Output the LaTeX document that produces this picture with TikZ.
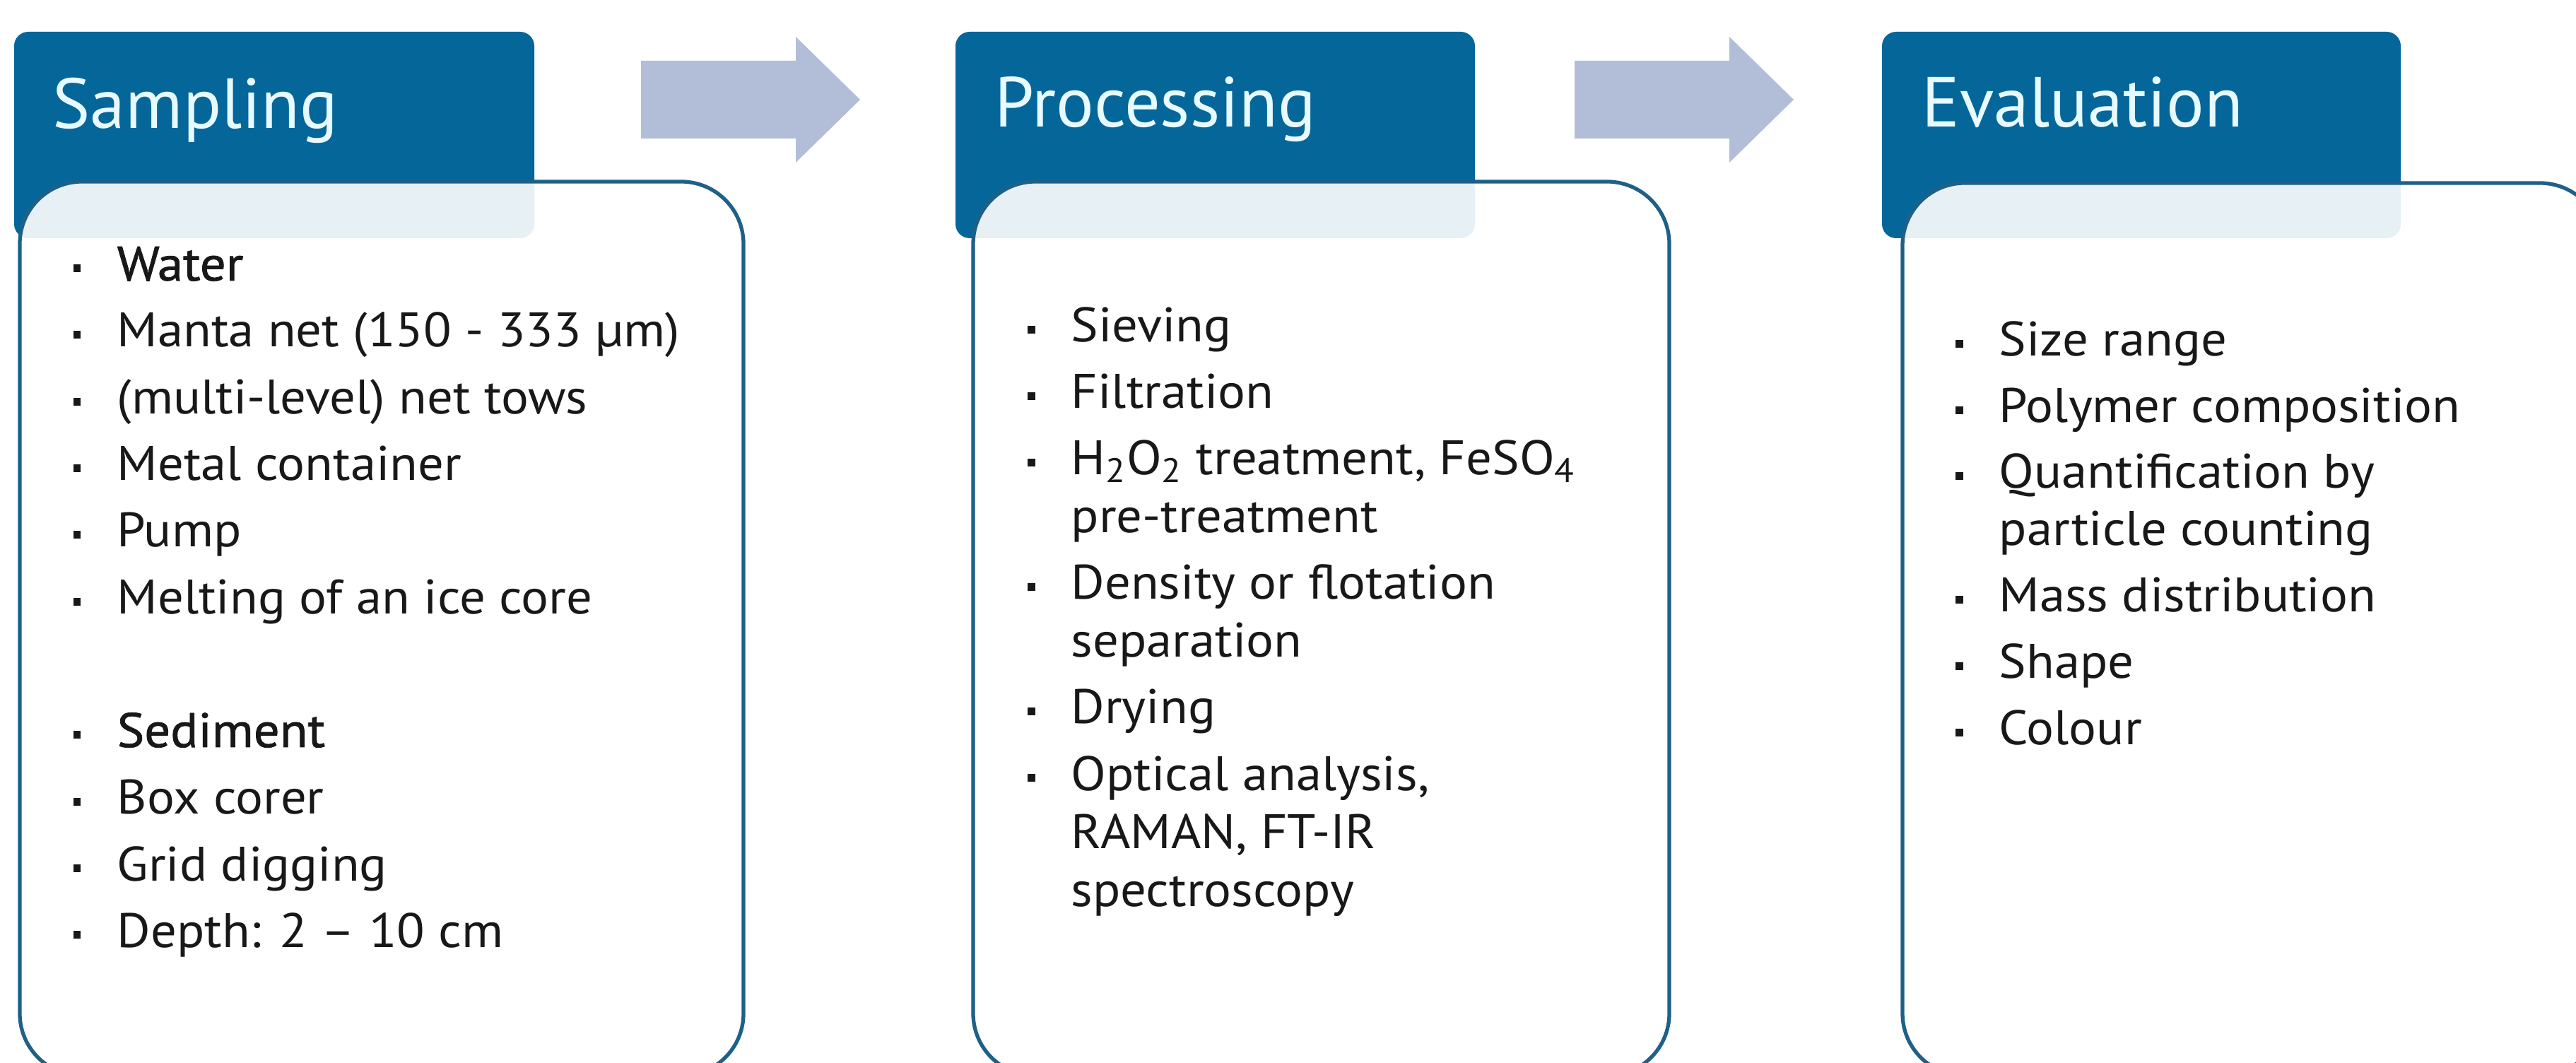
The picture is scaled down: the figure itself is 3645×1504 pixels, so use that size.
\documentclass[tikz,border=0pt]{standalone}
\usepackage{fontspec}
\setmainfont{PT Sans}
\newfontfamily\itemfont[FakeStretch=1.06]{PT Sans}
\newfontfamily\medfont[FakeStretch=1.06,FakeBold=1.1]{PT Sans}
\definecolor{headblue}{RGB}{5,102,154}
\definecolor{frameblue}{RGB}{30,96,136}
\definecolor{arrowfill}{RGB}{178,190,216}
\definecolor{headtext}{RGB}{230,250,255}
\definecolor{bodytext}{RGB}{24,24,24}
\tikzset{
  headbox/.style={fill=headblue, rounded corners=5.7pt},
  bodybox/.style={draw=frameblue, line width=1.5pt, fill=white, fill opacity=0.9, rounded corners=0.88cm},
  flowarrow/.style={fill=arrowfill},
  headlabel/.style={anchor=base west, inner sep=0pt, text=headtext, font=\fontsize{28.5}{34}\selectfont},
  itemtext/.style={anchor=base west, inner sep=0pt, text=bodytext, font=\itemfont\fontsize{19.5}{24}\selectfont},
  itemdot/.style={anchor=base, inner sep=0pt, text=bodytext, font=\itemfont\fontsize{19.5}{24}\selectfont}
}
% small square bullet mark
\newcommand\sqmark{\rule[0.18em]{0.16em}{0.16em}}
% bullet entry: name, text x, baseline y, text
\newcommand\bulletentry[4]{%
  \node[itemdot] (#1-dot) at (#2-56,#3) {\sqmark};
  \node[itemtext] (#1) at (#2,#3) {#4};}
% continuation line of an entry: name, text x, baseline y, text
\newcommand\contline[4]{%
  \node[itemtext] (#1) at (#2,#3) {#4};}
\begin{document}
\begin{tikzpicture}[x=0.01cm, y=-0.01cm]
\useasboundingbox (0,0) rectangle (3645,1504);
\clip (0,0) rectangle (3645,1504);

% title tabs
\fill[headbox] (20,45) rectangle (756,337);
\fill[headbox] (1352,45) rectangle (2087,337);
\fill[headbox] (2663,45) rectangle (3397,337);

% content panels
\draw[bodybox] (28,257) rectangle (1052,1522);
\draw[bodybox] (1377,257) rectangle (2362,1522);
\draw[bodybox] (2692,259) rectangle (3682,1522);

% block arrows between the stages
\fill[flowarrow] (907,86) -- (1126,86) -- (1126,52) -- (1217,141)
  -- (1126,230) -- (1126,196) -- (907,196) -- cycle;
\fill[flowarrow] (2228,86) -- (2447,86) -- (2447,52) -- (2538,141)
  -- (2447,230) -- (2447,196) -- (2228,196) -- cycle;

% stage titles
\node[headlabel] (samplingtitle) at (74,182) {Sampling};
\node[headlabel] (processingtitle) at (1407,180) {Processing};
\node[headlabel] (evaluationtitle) at (2719,180) {Evaluation};

% sampling
\bulletentry{s1}{165}{397}{\medfont Water}
\bulletentry{s2}{165}{491}{Manta net (150 - 333 µm)}
\bulletentry{s3}{165}{586}{(multi-level) net tows}
\bulletentry{s4}{165}{680}{Metal container}
\bulletentry{s5}{165}{774}{Pump}
\bulletentry{s6}{165}{869}{Melting of an ice core}
\bulletentry{s7}{165}{1057}{\medfont Sediment}
\bulletentry{s8}{165}{1152}{Box corer}
\bulletentry{s9}{165}{1246}{Grid digging}
\bulletentry{s10}{165}{1340}{Depth: 2 – 10 cm}

% processing
\bulletentry{p1}{1515}{484}{Sieving}
\bulletentry{p2}{1515}{578}{Filtration}
\bulletentry{p3}{1515}{672}{H\textsubscript{2}O\textsubscript{2} treatment, FeSO\textsubscript{4}}
\contline{p3b}{1515}{754}{pre-treatment}
\bulletentry{p4}{1515}{848}{Density or flotation}
\contline{p4b}{1515}{930}{separation}
\bulletentry{p5}{1515}{1024}{Drying}
\bulletentry{p6}{1515}{1118}{Optical analysis,}
\contline{p6b}{1515}{1200}{RAMAN, FT-IR}
\contline{p6c}{1515}{1282}{spectroscopy}

% evaluation
\bulletentry{e1}{2828}{504}{Size range}
\bulletentry{e2}{2828}{598}{Polymer composition}
\bulletentry{e3}{2828}{691}{Quantification by}
\contline{e3b}{2828}{772}{particle counting}
\bulletentry{e4}{2828}{866}{Mass distribution}
\bulletentry{e5}{2828}{960}{Shape}
\bulletentry{e6}{2828}{1054}{Colour}
\end{tikzpicture}
\end{document}
